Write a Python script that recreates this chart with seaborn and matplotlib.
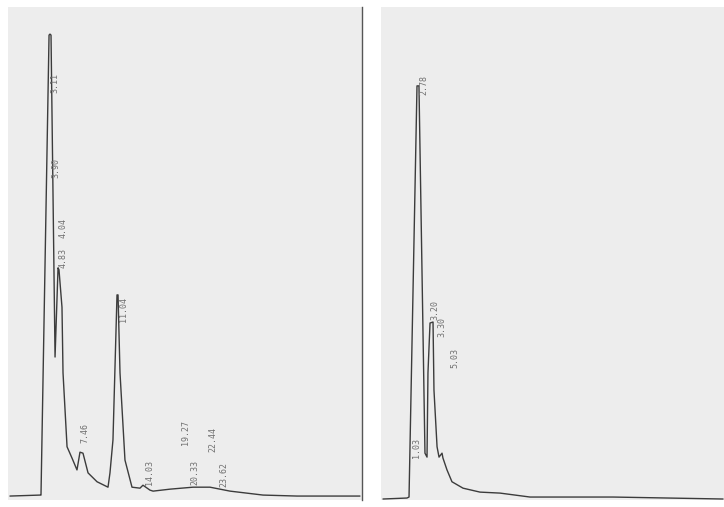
import numpy as np
import pandas as pd
import seaborn as sns
import matplotlib.pyplot as plt

# left chromatogram: retention time (min) vs detector signal (arb.)
left_time = [-1.44, 2.07, 2.18, 3.12, 3.23, 3.35, 3.82, 4.17, 4.28, 4.63, 4.75,
             5.22, 5.80, 6.38, 6.73, 7.08, 7.67, 8.72, 10.0, 10.23, 10.58, 11.05,
             11.17, 11.40, 11.98, 12.80, 13.73, 14.08, 14.90, 15.26, 17.24, 19.92,
             21.90, 24.24, 28.09, 32.06, 39.4]
left_signal = [0.8, 1.0, 1.0, 94.3, 94.5, 94.3, 29.0, 47.1, 46.7, 39.1, 25.8,
               10.8, 8.5, 6.1, 9.7, 9.5, 5.5, 3.7, 2.6, 5.5, 12.2, 41.6,
               41.6, 25.8, 8.1, 2.6, 2.4, 3.0, 2.0, 1.8, 2.2, 2.6,
               2.6, 1.8, 1.0, 0.8, 0.8]
left_labels = ["3.11", "3.90", "4.04", "4.83", "7.46", "11.04", "14.03",
               "19.27", "20.33", "22.44", "23.62"]

# right chromatogram
right_time = [-1.31, 1.49, 1.73, 2.66, 2.89, 3.59, 3.83, 3.94, 4.18, 4.53, 4.64,
              5.00, 5.23, 5.58, 5.69, 6.16, 6.74, 8.03, 10.01, 12.35, 15.85,
              25.54, 38.37]
right_signal = [0.2, 0.4, 0.6, 84.0, 84.0, 9.5, 8.7, 25.8, 35.9, 36.1, 22.3,
                10.8, 8.7, 9.5, 8.5, 6.1, 3.7, 2.4, 1.6, 1.4, 0.6,
                0.6, 0.2]
right_labels = ["2.78", "3.20", "3.30", "5.03", "1.03"]

# where the printer put the peak labels (x, bottom of rotated text)
left_label_pos = [(3.82, 82.6), (3.93, 65.3), (4.75, 53.1), (4.75, 47.1),
                  (7.32, 11.6), (11.76, 36.1), (14.90, 3.0), (19.10, 11.2),
                  (20.15, 3.0), (22.25, 9.7), (23.54, 2.6)]
right_label_pos = [(3.48, 82.2), (4.70, 36.5), (5.55, 33.0), (7.09, 26.8),
                   (2.66, 8.5)]

sns.set_style("white")
plt.rcParams['font.family'] = ['DejaVu Sans Mono', 'DejaVu Sans']

fig = plt.figure(figsize=(7.24, 5.07), dpi=100)
W, H = 724, 507

def make_ax(x0, y0, x1, y1):
    return fig.add_axes([x0 / W, 1 - y1 / H, (x1 - x0) / W, (y1 - y0) / H])

ax_l = make_ax(8, 7, 362, 500)
ax_r = make_ax(381, 7, 724, 500)

panels = [
    (ax_l, left_time, left_signal, left_labels, left_label_pos, (-1.67, 39.64)),
    (ax_r, right_time, right_signal, right_labels, right_label_pos, (-1.54, 38.48)),
]

for ax, t, s, labels, pos, xlim in panels:
    df = pd.DataFrame({"time": t, "signal": s})
    sns.lineplot(data=df, x="time", y="signal", ax=ax, sort=False,
                 color="#3c3c3c", linewidth=1.0)
    for lab, (x, y) in zip(labels, pos):
        ax.text(x, y, lab, rotation=90, ha="center", va="bottom",
                fontsize=6, color="#707070")
    ax.set_xlim(*xlim)
    ax.set_ylim(0, 100)
    ax.set_facecolor("#ededed")
    ax.set_xticks([])
    ax.set_yticks([])
    ax.set_xlabel("")
    ax.set_ylabel("")
    for sp in ax.spines.values():
        sp.set_visible(False)

ax_l.spines["right"].set_visible(True)
ax_l.spines["right"].set_color("#555555")
ax_l.spines["right"].set_linewidth(1.0)

fig.savefig("out.png", dpi=100, facecolor="white")
